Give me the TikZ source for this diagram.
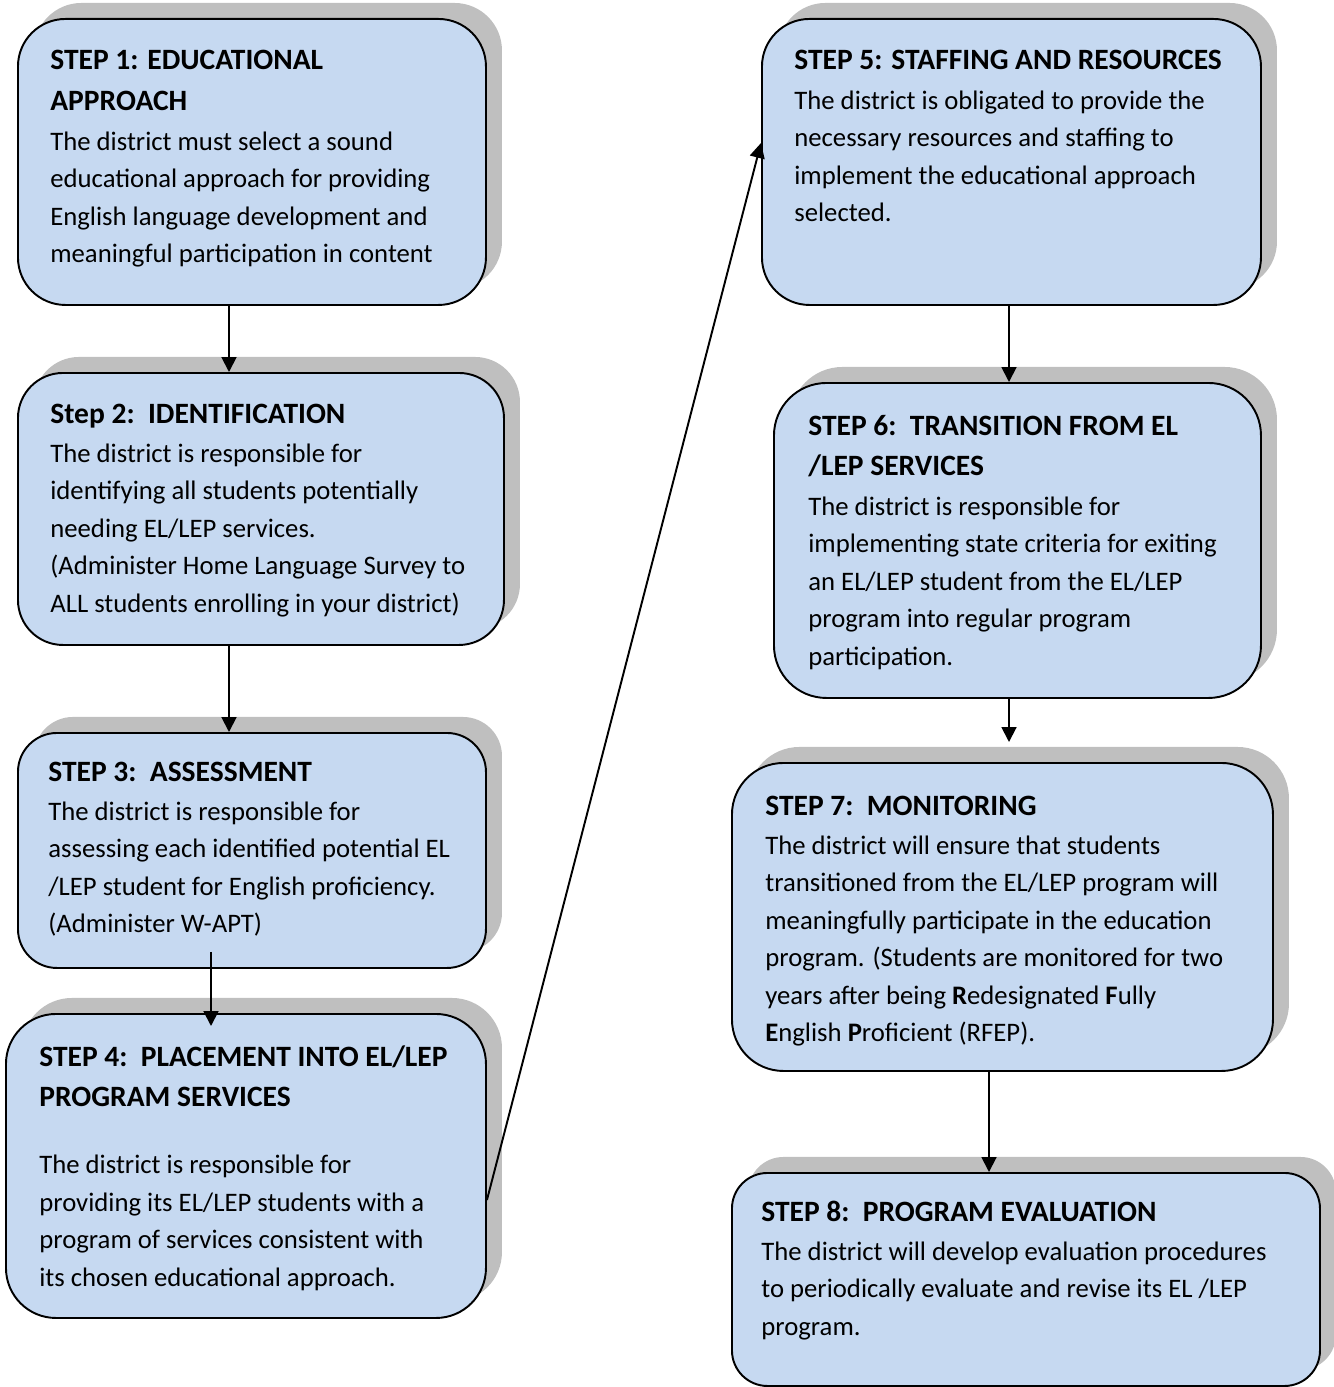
\documentclass[tikz,border=0pt]{standalone}
\usepackage{fontspec}
\setmainfont{Carlito}
\usetikzlibrary{shadows,arrows.meta}

\definecolor{bleu}{HTML}{C6D9F1}
\definecolor{ombre}{HTML}{BFBFBF}
\newcommand{\policetitre}{\fontsize{16.8pt}{23.3pt}\selectfont\bfseries}
\newcommand{\policecorps}{\fontsize{15.2pt}{21.34pt}\selectfont\mdseries}

\begin{document}
\begin{tikzpicture}
	\tikzset{boite/.style={draw=black, line width=1.1pt, fill=bleu, anchor=north west, inner sep=0pt,
		general shadow={shadow xshift=0.32cm, shadow yshift=0.32cm, fill=ombre}},
	texte/.style={anchor=base west, inner sep=0pt},
	fleche/.style={->, >={Triangle[length=8.5pt, width=8.5pt]}, line width=1.1pt}};

	\useasboundingbox (0,0) rectangle (26.68,-27.74);

	\foreach \n/\x/\y/\w/\h/\r in {1/0.34/-0.36/9.36/5.72/0.95, 2/0.34/-7.44/9.72/5.44/0.9,
		3/0.34/-14.64/9.36/4.70/0.78, 4/0.10/-20.26/9.60/6.08/1.0, 5/15.22/-0.36/9.98/5.72/0.95,
		6/15.46/-7.64/9.74/6.30/1.05, 7/14.62/-15.24/10.82/6.16/1.03, 8/14.62/-23.44/11.76/4.26/0.71}{
		\node[boite, minimum width=\w cm, minimum height=\h cm, rounded corners=\r cm] (e\n) at (\x,\y) {};
	}

	\node[texte] (t1) at (1.00,-1.40) {\parbox[t]{10cm}{\policetitre STEP 1: EDUCATIONAL\\APPROACH\par\vspace{1.1pt}
		\policecorps The district must select a sound\\educational approach for providing\\English language development and\\meaningful participation in content}};
	\node[texte] (t2) at (1.00,-8.46) {\parbox[t]{10cm}{\policetitre Step 2:\ \ IDENTIFICATION\par\vspace{1.1pt}
		\policecorps The district is responsible for\\identifying all students potentially\\needing EL/LEP services.\\(Administer Home Language Survey to\\ALL students enrolling in your district)}};
	\node[texte] (t3) at (0.96,-15.62) {\parbox[t]{10cm}{\policetitre STEP 3:\ \ ASSESSMENT\par\vspace{1.1pt}
		\policecorps The district is responsible for\\assessing each identified potential EL\\/LEP student for English proficiency.\\(Administer W-APT)}};
	\node[texte] (t4) at (0.78,-21.32) {\parbox[t]{10cm}{\policetitre STEP 4:\ \ PLACEMENT INTO EL/LEP\\PROGRAM SERVICES\par\vspace{16.8pt}
		\policecorps The district is responsible for\\providing its EL/LEP students with a\\program of services consistent with\\its chosen educational approach.}};
	\node[texte] (t5) at (15.88,-1.40) {\parbox[t]{10cm}{\policetitre STEP 5: STAFFING AND RESOURCES\par\vspace{1.1pt}
		\policecorps The district is obligated to provide the\\necessary resources and staffing to\\implement the educational approach\\selected.}};
	\node[texte] (t6) at (16.16,-8.70) {\parbox[t]{10cm}{\policetitre STEP 6:\ \ TRANSITION FROM EL\\/LEP SERVICES\par\vspace{1.1pt}
		\policecorps The district is responsible for\\implementing state criteria for exiting\\an EL/LEP student from the EL/LEP\\program into regular program\\participation.}};
	\node[texte] (t7) at (15.30,-16.30) {\parbox[t]{11cm}{\policetitre STEP 7:\ \ MONITORING\par\vspace{1.1pt}
		\policecorps The district will ensure that students\\transitioned from the EL/LEP program will\\meaningfully participate in the education\\program. (Students are monitored for two\\years after being \textbf{R}edesignated \textbf{F}ully\\\textbf{E}nglish \textbf{P}roficient (RFEP).}};
	\node[texte] (t8) at (15.22,-24.42) {\parbox[t]{11cm}{\policetitre STEP 8:\ \ PROGRAM EVALUATION\par\vspace{1.1pt}
		\policecorps The district will develop evaluation procedures\\to periodically evaluate and revise its EL /LEP\\program.}};

	\draw[fleche] ([xshift=4.24cm]e1.south west) -- ([xshift=4.24cm]e2.north west);
	\draw[fleche] ([xshift=4.24cm]e2.south west) -- ([xshift=4.24cm]e3.north west);
	\draw[fleche] ([xshift=3.88cm, yshift=0.34cm]e3.south west) -- ([xshift=4.12cm, yshift=-0.26cm]e4.north west);
	\draw[fleche] ([yshift=-3.74cm]e4.north east) -- ([yshift=-2.5cm]e5.north west);
	\draw[fleche] ([xshift=4.96cm]e5.south west) -- ([xshift=4.72cm]e6.north west);
	\draw[fleche] ([xshift=4.72cm]e6.south west) -- ([xshift=5.56cm, yshift=0.4cm]e7.north west);
	\draw[fleche] ([xshift=5.16cm]e7.south west) -- ([xshift=5.16cm]e8.north west);

\end{tikzpicture}
\end{document}
